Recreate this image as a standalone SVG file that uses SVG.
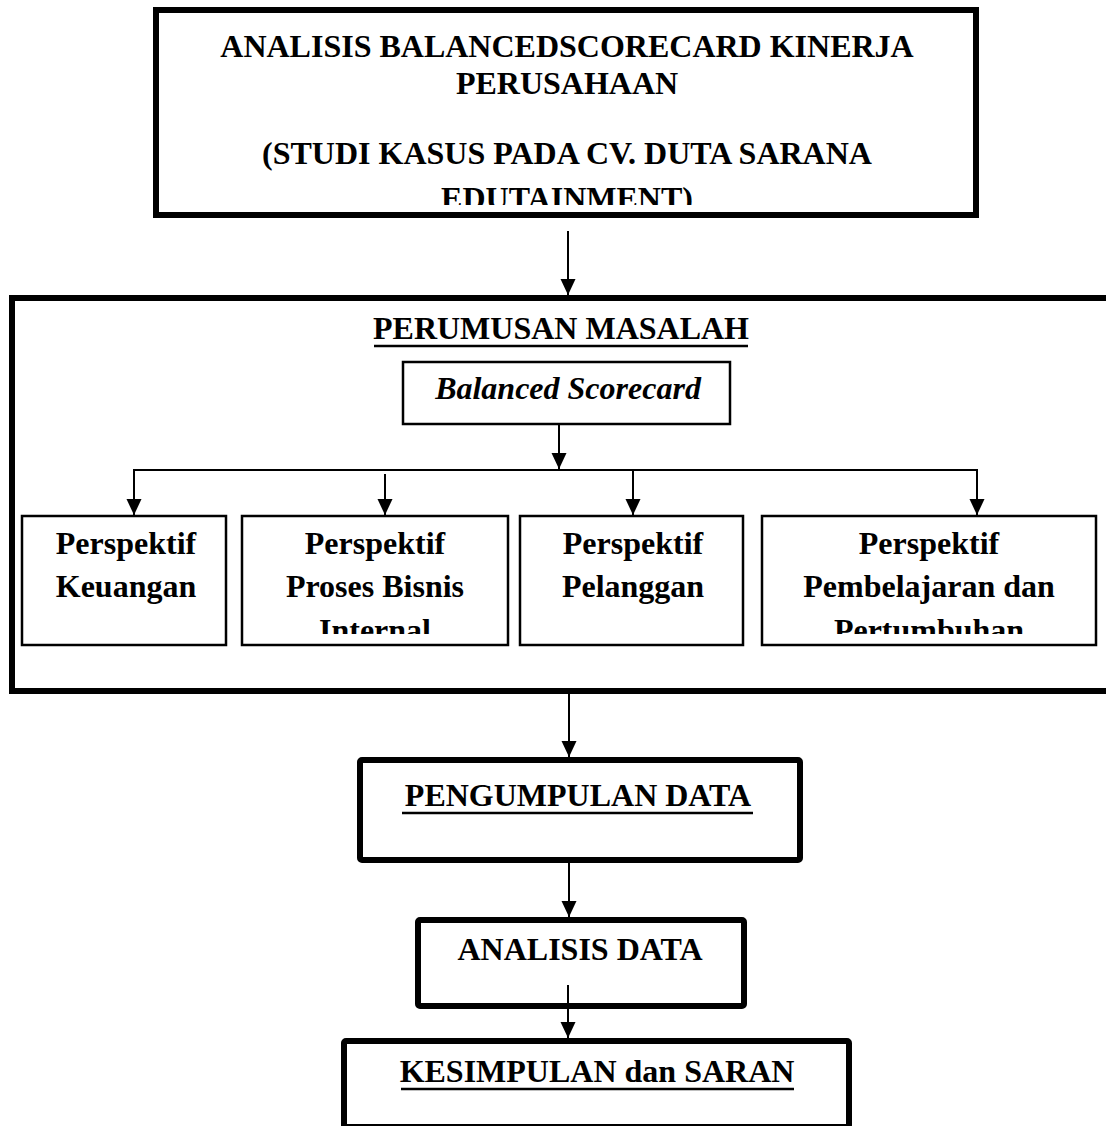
<svg xmlns="http://www.w3.org/2000/svg" width="1106" height="1126" viewBox="0 0 1106 1126">
<style>
  .t{font-family:"Liberation Serif","Times New Roman",serif;font-weight:bold;font-size:32px;fill:#000;text-anchor:middle}
  .bi{font-style:italic}
  .thick{fill:none;stroke:#000;stroke-width:6}
  .thin{fill:none;stroke:#000;stroke-width:2.5}
  .ln{fill:none;stroke:#000;stroke-width:2}
  .ul{stroke:#000;stroke-width:2.5}
</style>
<defs>
  <marker id="ah" viewBox="0 0 16 16" markerWidth="16" markerHeight="16" refX="16" refY="8" orient="auto-start-reverse" markerUnits="userSpaceOnUse">
    <path d="M0,0.5 L16,8 L0,15.5 Z" fill="#000"/>
  </marker>
  <clipPath id="c1"><rect x="159" y="13" width="814" height="192"/></clipPath>
  <clipPath id="c2"><rect x="243" y="517" width="264" height="117"/></clipPath>
  <clipPath id="c4"><rect x="763" y="517" width="332" height="117"/></clipPath>
</defs>
<rect width="1106" height="1126" fill="#fff"/>

<g id="title">
  <rect class="thick" x="156" y="10" width="820" height="205"/>
  <g clip-path="url(#c1)">
    <text class="t" x="567" y="57">ANALISIS BALANCEDSCORECARD KINERJA</text>
    <text class="t" x="567" y="94">PERUSAHAAN</text>
    <text class="t" x="567" y="164">(STUDI KASUS PADA CV. DUTA SARANA</text>
    <text class="t" x="567" y="209">EDUTAINMENT)</text>
  </g>
</g>

<g id="perumusan">
  <rect class="thick" x="12" y="298" width="1110" height="393"/>
  <text class="t" x="561" y="339">PERUMUSAN MASALAH</text>
  <line class="ul" x1="374" y1="346" x2="748" y2="346"/>
</g>

<g id="bsc">
  <rect class="thin" x="403" y="362" width="327" height="62"/>
  <text class="t bi" x="568" y="399">Balanced Scorecard</text>
</g>

<g id="p1">
  <rect class="thin" x="22" y="516" width="204" height="129"/>
  <text class="t" x="126" y="554">Perspektif</text>
  <text class="t" x="126" y="597">Keuangan</text>
</g>
<g id="p2">
  <rect class="thin" x="242" y="516" width="266" height="129"/>
  <g clip-path="url(#c2)">
    <text class="t" x="375" y="554">Perspektif</text>
    <text class="t" x="375" y="597">Proses Bisnis</text>
    <text class="t" x="375" y="641">Internal</text>
  </g>
</g>
<g id="p3">
  <rect class="thin" x="520" y="516" width="223" height="129"/>
  <text class="t" x="633" y="554">Perspektif</text>
  <text class="t" x="633" y="597">Pelanggan</text>
</g>
<g id="p4">
  <rect class="thin" x="762" y="516" width="334" height="129"/>
  <g clip-path="url(#c4)">
    <text class="t" x="929" y="554">Perspektif</text>
    <text class="t" x="929" y="597">Pembelajaran dan</text>
    <text class="t" x="929" y="641">Pertumbuhan</text>
  </g>
</g>

<g id="pengumpulan">
  <rect class="thick" x="360" y="760" width="440" height="100" rx="2"/>
  <text class="t" x="578" y="806">PENGUMPULAN DATA</text>
  <line class="ul" x1="402" y1="813" x2="753" y2="813"/>
</g>

<g id="analisis">
  <rect class="thick" x="418" y="920" width="326" height="86" rx="2"/>
  <text class="t" x="580" y="960">ANALISIS DATA</text>
</g>

<g id="kesimpulan">
  <rect class="thick" x="344" y="1041" width="505" height="86" rx="2"/>
  <text class="t" x="597" y="1082">KESIMPULAN dan SARAN</text>
  <line class="ul" x1="401" y1="1089" x2="794" y2="1089"/>
</g>

<g id="connectors">
  <line class="ln" x1="568" y1="231" x2="568" y2="295" marker-end="url(#ah)"/>
  <line class="ln" x1="559" y1="424" x2="559" y2="469" marker-end="url(#ah)"/>
  <polyline class="ln" points="134,515 134,470 977,470 977,515" marker-start="url(#ah)" marker-end="url(#ah)"/>
  <line class="ln" x1="385" y1="474" x2="385" y2="515" marker-end="url(#ah)"/>
  <line class="ln" x1="633" y1="470" x2="633" y2="515" marker-end="url(#ah)"/>
  <line class="ln" x1="569" y1="694" x2="569" y2="757" marker-end="url(#ah)"/>
  <line class="ln" x1="569" y1="863" x2="569" y2="917" marker-end="url(#ah)"/>
  <line class="ln" x1="568" y1="985" x2="568" y2="1038" marker-end="url(#ah)"/>
</g>
</svg>
